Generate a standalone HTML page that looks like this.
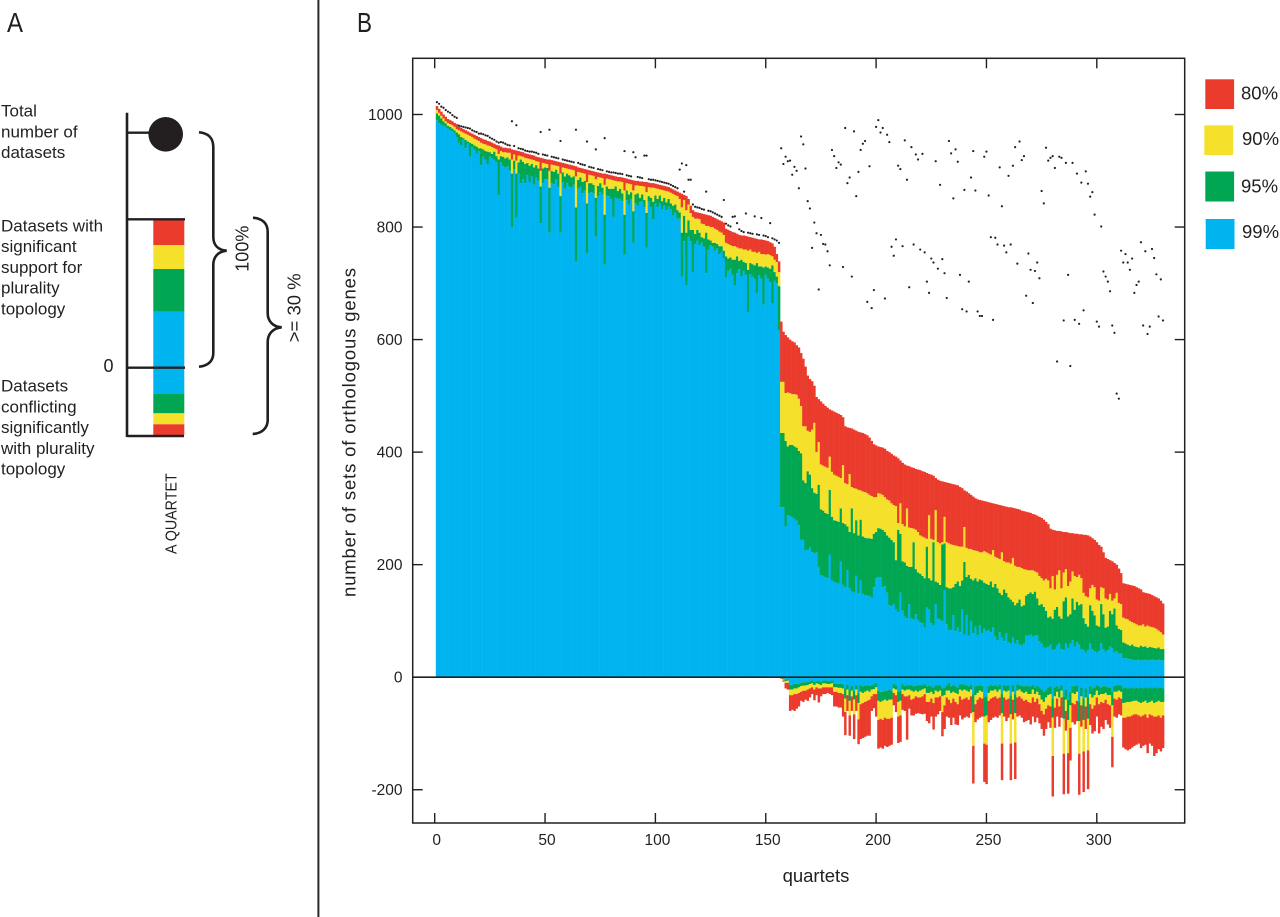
<!DOCTYPE html>
<html lang="en">
<head>
<meta charset="utf-8">
<title>Quartet support chart</title>
<style>
html,body{margin:0;padding:0;background:#fff;width:1280px;height:917px;overflow:hidden}
svg{display:block}
text{font-family:"Liberation Sans",sans-serif;fill:#231f20}
</style>
</head>
<body>
<svg id="figure" xmlns="http://www.w3.org/2000/svg" width="1280" height="917" viewBox="0 0 1280 917">
  <rect x="317.4" y="0" width="2" height="917" fill="#2a2a2a"/>
  <text x="7" y="32" font-size="28" textLength="16" lengthAdjust="spacingAndGlyphs">A</text>
  <text x="357" y="32" font-size="28" textLength="15" lengthAdjust="spacingAndGlyphs">B</text>

  <g id="panel-a">
    <g id="schematic-stack"></g>
    <line x1="127" y1="112.7" x2="127" y2="437" stroke="#231f20" stroke-width="2.6"/>
    <line x1="127" y1="132.7" x2="152" y2="132.7" stroke="#231f20" stroke-width="2.4"/>
    <circle cx="165.7" cy="134.3" r="17.3" fill="#231f20"/>
    <line x1="127" y1="219.3" x2="185" y2="219.3" stroke="#231f20" stroke-width="2.4"/>
    <line x1="127" y1="367.7" x2="185" y2="367.7" stroke="#231f20" stroke-width="2.4"/>
    <line x1="127" y1="436" x2="184" y2="436" stroke="#231f20" stroke-width="2.4"/>
    <path d="M199 132.3 C208 133 213.3 138 213.3 147 L213.3 237 C213.3 245 218 250 226.7 250.7 C218 251.5 213.3 257 213.3 265 L213.3 353 C213.3 361 208 366 199 366.7" fill="none" stroke="#231f20" stroke-width="2.6"/>
    <path d="M253 217.7 C262 218.4 267.7 223 267.7 232 L267.7 313.3 C267.7 321 273 327 281.7 327.3 C273 328 267.7 334 267.7 342 L267.7 420 C267.7 428 262 433.4 252.7 434" fill="none" stroke="#231f20" stroke-width="2.6"/>
    <text transform="translate(248.3,271.7) rotate(-90)" font-size="18">100%</text>
    <text transform="translate(300.7,342.3) rotate(-90)" font-size="18.5">&gt;= 30 %</text>
    <text x="103.5" y="372" font-size="18">0</text>
    <text transform="translate(176.7,554) rotate(-90)" font-size="16" textLength="80.7" lengthAdjust="spacingAndGlyphs">A QUARTET</text>
    <g font-size="17">
      <text x="1" y="116.7">Total</text>
      <text x="1" y="137.3">number of</text>
      <text x="1" y="158">datasets</text>
    </g>
    <g font-size="17">
      <text x="1" y="231.3">Datasets with</text>
      <text x="1" y="252">significant</text>
      <text x="1" y="273">support for</text>
      <text x="1" y="293.6">plurality</text>
      <text x="1" y="314.3">topology</text>
    </g>
    <g font-size="17">
      <text x="1" y="391.7">Datasets</text>
      <text x="1" y="412.5">conflicting</text>
      <text x="1" y="433.2">significantly</text>
      <text x="1" y="454">with plurality</text>
      <text x="1" y="474.7">topology</text>
    </g>
  </g>

  <g id="bars"></g>
  <g id="dots"></g>
  <g id="axes"></g>

  <text transform="translate(355.5,597) rotate(-90)" font-size="18.5" textLength="329">number of sets of orthologous genes</text>
  <text x="816" y="882" font-size="18.5" text-anchor="middle">quartets</text>

  <g>
    <rect x="1205.3" y="79.3" width="28.8" height="29.7" fill="#EA3B2D"/>
    <rect x="1204.3" y="125.3" width="28.8" height="29.7" fill="#F5E02A"/>
    <rect x="1205.3" y="171.5" width="28.8" height="30" fill="#00A651"/>
    <rect x="1205.7" y="219" width="28.8" height="30" fill="#00B4EF"/>
    <text x="1241" y="99.5" font-size="18.5">80%</text>
    <text x="1242" y="145" font-size="18.5">90%</text>
    <text x="1241" y="192.7" font-size="18.5">95%</text>
    <text x="1242" y="238" font-size="18.5">99%</text>
  </g>
</svg>

<script>
// Category labels
const xTickLabels = [0, 50, 100, 150, 200, 250, 300];
const yTickLabels = [-200, 0, 200, 400, 600, 800, 1000];

// Total number of datasets (black dots), one value per quartet
const totals = [
1022,1019,1014,1012,1008,1005,1003,999,996,994,
980,979,978,977,976,975,972,970,969,966,
966,965,963,962,959,957,955,952,950,951,
950,948,946,945,988,944,981,940,939,938,
936,935,934,934,933,932,930,969,929,928,
927,973,925,924,923,922,953,920,919,918,
917,916,915,973,914,912,911,910,952,907,
906,905,938,903,902,901,958,899,898,897,
897,896,895,895,894,935,892,891,890,933,
924,889,888,887,927,927,885,884,884,883,
882,881,880,879,878,877,875,873,871,869,
902,913,863,910,884,884,840,836,835,834,
832,831,863,829,828,826,824,822,820,818,
848,806,803,801,818,819,807,796,793,791,
824,790,789,788,819,787,786,816,785,784,
782,807,780,778,776,772,
940,912,925,917,918,893,907,900,869,961,
947,904,846,833,763,808,789,689,786,770,
769,757,732,937,926,905,915,911,729,976,
878,888,712,970,855,898,937,948,953,667,
908,656,688,978,990,968,976,673,964,951,
765,749,778,909,903,766,954,884,693,942,
769,929,920,760,930,755,703,683,744,737,
917,726,875,743,718,674,953,931,851,938,
916,715,654,866,650,703,888,935,865,650,
642,642,925,934,856,782,635,781,769,906,
837,767,755,891,769,909,942,735,952,919,
926,678,753,724,665,722,737,709,864,842,
941,918,923,926,905,561,925,923,634,914,
715,553,914,635,895,628,879,652,899,877,
854,862,822,632,623,801,721,712,703,686,
625,612,504,495,758,737,752,737,724,744,
683,697,703,773,625,757,610,623,761,745,
716,641,707,634
];

// Significant support, cumulative level reached at each bootstrap threshold
const support80 = [
1015,1010,1005,1000,996,992,990,988,985,983,
978,976,974,972,970,968,966,964,962,960,
958,956,955,953,952,950,948,946,945,943,
941,941,940,940,938,937,936,935,934,933,
931,930,929,928,927,925,924,923,922,921,
920,920,919,918,917,916,915,914,913,912,
911,910,909,908,906,905,904,903,902,901,
900,899,898,897,896,895,895,894,893,892,
891,890,889,889,888,887,886,885,884,883,
882,882,881,881,880,880,879,878,878,877,
876,875,874,873,872,871,869,867,865,863,
861,859,857,855,850,838,830,827,826,825,
824,823,822,821,820,818,816,814,812,810,
808,797,795,793,791,790,788,786,785,785,
784,783,782,781,780,779,778,778,777,776,
775,773,771,765,752,739,632,614,608,604,
600,597,595,590,586,576,566,552,536,530,
526,518,498,494,490,486,482,479,476,474,
472,470,468,466,462,446,444,443,442,440,
438,436,435,434,432,430,426,420,414,412,
410,409,408,406,402,400,397,394,392,389,
385,381,378,376,375,373,372,370,369,368,
366,365,363,361,360,358,354,351,349,348,
347,346,345,344,343,342,341,338,336,332,
330,327,324,321,318,316,315,314,313,312,
311,310,309,308,307,306,305,304,303,302,
302,301,300,299,298,296,295,294,293,292,
290,289,287,285,283,280,276,272,264,262,
261,260,260,259,258,258,257,256,256,255,
255,254,254,253,253,252,250,247,244,240,
235,232,222,212,210,208,206,203,200,193,
185,167,166,165,164,163,162,160,158,156,
151,150,149,148,146,144,142,140,136,131
];
const support90 = [
1008,1003,998,993,988,985,983,981,978,974,
972,970,968,966,964,962,960,957,955,953,
950,948,947,945,944,942,940,938,930,935,
933,933,932,932,920,929,918,927,926,925,
923,922,921,920,919,917,916,900,914,913,
912,900,911,910,909,908,895,906,905,904,
903,902,901,890,898,897,896,895,880,893,
892,891,885,889,888,887,875,886,885,884,
883,882,881,881,880,865,878,877,876,865,
874,874,873,873,872,862,871,870,870,869,
868,867,866,865,864,863,861,859,857,855,
850,835,848,830,840,825,818,815,815,814,
806,805,802,802,800,800,797,795,792,790,
786,772,770,768,766,766,764,762,762,760,
760,758,760,756,756,754,756,752,752,751,
752,750,748,742,738,720,525,525,505,506,
505,503,503,502,495,482,446,446,438,436,
440,452,400,418,378,376,374,372,392,365,
360,358,356,354,377,345,343,361,338,336,
335,333,332,330,329,327,324,322,320,320,
327,326,324,320,316,314,309,306,304,274,
309,272,268,300,266,265,264,262,258,252,
250,248,246,288,246,244,297,240,238,240,
285,240,238,236,235,234,233,232,232,267,
230,228,228,226,225,224,222,222,224,222,
220,218,226,214,212,210,222,206,204,204,
202,212,198,196,196,194,192,191,190,190,
190,188,186,180,176,172,175,172,158,180,
156,182,190,158,186,192,162,170,188,180,
178,182,176,150,144,142,158,164,160,138,
136,160,158,140,138,148,136,140,150,132,
130,106,104,103,100,98,96,94,92,92,
94,90,92,90,89,88,86,83,80,76
];
const support95 = [
1002,998,993,988,984,980,978,975,972,968,
965,960,958,955,952,950,948,945,943,940,
940,938,935,934,933,930,934,926,920,926,
925,922,924,920,895,918,895,915,920,916,
912,914,909,912,906,910,904,872,904,906,
905,870,900,898,902,895,855,897,890,895,
892,888,890,835,884,888,880,882,842,878,
878,875,852,873,878,870,822,872,868,868,
868,872,864,868,860,822,865,858,862,828,
858,860,852,858,848,825,855,852,845,856,
850,856,846,852,844,850,842,838,840,830,
826,790,820,790,812,795,795,788,795,790,
782,780,790,778,776,772,772,770,766,766,
758,748,744,746,742,742,748,740,742,738,
736,724,736,734,732,736,730,730,728,730,
728,726,732,720,712,695,434,434,420,410,
413,413,410,408,402,398,350,345,366,360,
336,328,326,342,298,296,292,290,333,285,
279,278,276,300,274,272,268,258,300,256,
279,252,280,250,248,247,247,246,255,258,
265,264,262,258,252,248,244,240,208,262,
255,206,204,198,196,196,240,192,186,184,
180,176,232,176,172,240,170,168,164,236,
238,160,158,158,160,166,170,162,172,205,
178,182,175,172,176,170,174,172,168,166,
164,170,160,166,158,150,146,156,150,142,
138,134,128,132,138,126,128,145,148,151,
148,152,140,128,130,125,118,106,108,104,
120,125,108,104,135,142,108,112,140,120,
134,128,130,105,95,90,128,118,110,92,
90,130,112,88,90,118,112,122,92,86,
84,62,60,58,56,58,55,54,53,56,
54,55,52,54,53,52,51,53,50,50
];
const support99 = [
990,985,982,980,978,975,972,970,968,960,
950,945,955,940,948,925,942,938,930,935,
910,925,920,912,925,922,920,915,857,915,
908,906,908,900,800,903,817,895,878,885,
878,892,880,890,875,888,882,807,878,885,
885,790,878,876,885,872,790,880,868,878,
872,870,875,739,868,872,860,865,754,860,
862,860,783,855,862,858,733,856,855,850,
818,852,850,850,846,751,848,840,850,772,
842,838,844,846,835,763,845,835,813,842,
835,842,832,838,830,836,832,820,826,815,
815,712,775,697,783,775,720,770,776,768,
772,765,718,760,768,765,758,762,752,756,
745,710,722,726,715,697,718,725,712,722,
715,649,716,712,708,683,714,708,662,715,
708,702,665,705,700,617,302,302,268,288,
286,284,282,278,270,244,244,226,226,230,
222,220,222,196,181,180,178,176,218,172,
169,168,166,205,164,160,190,158,152,150,
180,149,172,148,146,145,144,141,160,176,
178,178,160,162,150,128,126,130,120,116,
150,118,108,105,130,104,102,112,101,98,
96,88,124,120,96,92,130,104,102,100,
155,94,84,84,110,82,88,80,120,76,
110,74,100,78,90,75,92,78,86,82,
84,80,88,72,66,80,70,64,78,62,
60,70,60,66,58,56,60,74,74,76,
72,74,75,64,60,53,52,54,58,48,
50,56,60,50,48,60,52,60,66,54,
62,58,50,48,44,48,60,50,46,44,
46,60,50,45,48,54,52,44,46,42,
43,34,34,33,32,31,30,30,31,30,
30,31,30,30,31,30,30,31,30,30
];

// Significant conflict, cumulative depth below zero at each threshold
const conflict80 = [
0,0,0,0,0,0,0,0,0,0, 0,0,0,0,0,0,0,0,0,0,
0,0,0,0,0,0,0,0,0,0, 0,0,0,0,0,0,0,0,0,0,
0,0,0,0,0,0,0,0,0,0, 0,0,0,0,0,0,0,0,0,0,
0,0,0,0,0,0,0,0,0,0, 0,0,0,0,0,0,0,0,0,0,
0,0,0,0,0,0,0,0,0,0, 0,0,0,0,0,0,0,0,0,0,
0,0,0,0,0,0,0,0,0,0, 0,0,0,0,0,0,0,0,0,0,
0,0,0,0,0,0,0,0,0,0, 0,0,0,0,0,0,0,0,0,0,
0,0,0,0,0,0,0,0,0,0,
0,0,0,0,0,0,3,8,20,22,
60,58,60,56,52,42,44,40,42,36,
30,41,32,45,34,30,30,28,30,32,
52,52,54,54,70,103,60,104,60,110,
60,119,110,108,106,104,104,60,55,70,
127,125,127,122,124,122,120,50,62,117,
115,58,60,111,56,68,68,65,64,65,
66,65,78,82,70,93,70,66,60,105,
92,70,72,85,72,84,85,68,75,72,
70,72,64,189,80,75,72,70,186,190,
80,76,72,70,72,68,183,70,78,72,
183,75,181,70,68,72,80,78,76,84,
70,80,72,82,92,104,92,80,90,212,
90,70,88,72,208,95,207,148,80,84,
78,209,88,204,92,199,85,100,96,70,
100,88,92,76,84,90,160,70,72,66,
68,125,128,130,128,125,122,120,118,126,
122,120,135,118,122,140,135,128,132,126
];
const conflict90 = [
0,0,0,0,0,0,0,0,0,0, 0,0,0,0,0,0,0,0,0,0,
0,0,0,0,0,0,0,0,0,0, 0,0,0,0,0,0,0,0,0,0,
0,0,0,0,0,0,0,0,0,0, 0,0,0,0,0,0,0,0,0,0,
0,0,0,0,0,0,0,0,0,0, 0,0,0,0,0,0,0,0,0,0,
0,0,0,0,0,0,0,0,0,0, 0,0,0,0,0,0,0,0,0,0,
0,0,0,0,0,0,0,0,0,0, 0,0,0,0,0,0,0,0,0,0,
0,0,0,0,0,0,0,0,0,0, 0,0,0,0,0,0,0,0,0,0,
0,0,0,0,0,0,0,0,0,0,
0,0,0,0,0,0,2,6,10,10,
32,32,30,30,28,26,24,24,22,20,
18,22,18,20,20,18,18,18,18,18,
26,26,28,28,30,62,32,68,34,66,
32,75,48,46,44,42,40,34,30,30,
76,74,76,72,74,74,72,28,32,70,
68,30,34,34,32,40,38,34,36,36,
34,30,44,44,38,46,36,36,34,62,
50,36,40,46,38,44,48,34,40,38,
36,40,34,122,48,40,36,38,118,120,
42,38,36,34,38,36,118,36,40,38,
118,40,116,36,34,38,42,40,44,46,
36,44,38,48,60,66,56,50,52,140,
54,38,52,36,136,60,135,90,46,48,
42,136,50,132,52,130,48,56,50,36,
48,44,46,40,48,50,106,38,40,36,
38,72,72,70,70,68,66,66,68,70,
68,66,72,66,68,70,70,68,72,68
];
const conflict95 = [
0,0,0,0,0,0,0,0,0,0, 0,0,0,0,0,0,0,0,0,0,
0,0,0,0,0,0,0,0,0,0, 0,0,0,0,0,0,0,0,0,0,
0,0,0,0,0,0,0,0,0,0, 0,0,0,0,0,0,0,0,0,0,
0,0,0,0,0,0,0,0,0,0, 0,0,0,0,0,0,0,0,0,0,
0,0,0,0,0,0,0,0,0,0, 0,0,0,0,0,0,0,0,0,0,
0,0,0,0,0,0,0,0,0,0, 0,0,0,0,0,0,0,0,0,0,
0,0,0,0,0,0,0,0,0,0, 0,0,0,0,0,0,0,0,0,0,
0,0,0,0,0,0,0,0,0,0,
0,0,0,0,0,0,1,4,7,6,
22,22,20,20,18,16,15,15,14,12,
11,14,11,12,14,11,11,12,12,11,
18,18,19,19,20,38,22,42,24,40,
22,46,26,28,26,24,26,22,21,18,
42,44,42,40,42,40,40,20,22,44,
42,22,24,22,22,24,26,24,26,24,
22,20,28,28,26,30,24,26,24,34,
32,24,24,28,26,28,30,22,24,22,
24,26,22,62,32,28,24,26,70,68,
28,24,24,22,26,22,64,24,26,24,
66,26,64,24,22,26,28,26,30,30,
22,30,26,32,40,44,36,32,30,72,
34,26,36,24,74,40,76,50,28,30,
26,78,34,76,36,74,30,36,32,24,
32,30,30,28,32,32,50,26,26,24,
26,46,45,44,44,43,42,42,44,46,
44,42,46,44,42,46,44,42,44,44
];
const conflict99 = [
0,0,0,0,0,0,0,0,0,0, 0,0,0,0,0,0,0,0,0,0,
0,0,0,0,0,0,0,0,0,0, 0,0,0,0,0,0,0,0,0,0,
0,0,0,0,0,0,0,0,0,0, 0,0,0,0,0,0,0,0,0,0,
0,0,0,0,0,0,0,0,0,0, 0,0,0,0,0,0,0,0,0,0,
0,0,0,0,0,0,0,0,0,0, 0,0,0,0,0,0,0,0,0,0,
0,0,0,0,0,0,0,0,0,0, 0,0,0,0,0,0,0,0,0,0,
0,0,0,0,0,0,0,0,0,0, 0,0,0,0,0,0,0,0,0,0,
0,0,0,0,0,0,0,0,0,0,
0,0,0,0,0,0,0,2,5,4,
14,14,12,12,11,10,9,9,8,7,
6,8,7,7,8,6,6,7,7,6,
12,11,12,12,13,20,14,22,15,24,
14,28,14,16,15,14,15,14,13,10,
24,26,26,24,24,22,24,12,14,26,
24,12,15,14,14,14,16,15,14,14,
14,12,16,15,16,18,14,14,14,20,
18,14,10,16,14,16,18,13,12,14,
14,16,13,30,16,15,14,15,36,34,
16,14,15,14,16,13,30,14,15,14,
32,14,30,13,14,15,16,15,16,16,
14,18,15,18,22,26,22,18,16,38,
18,16,20,14,34,22,40,26,16,16,
14,44,18,38,20,36,16,20,18,14,
16,18,16,16,18,18,26,15,14,14,
14,20,18,20,20,18,20,18,20,18,
20,18,20,18,20,18,20,18,18,20
];

// Panel A: illustrative quartet, stacked band sizes from the zero line
const schematicSupport = [56.0, 42.7, 24.0, 25.0];
const schematicConflict = [26.3, 19.3, 11.0, 10.7];

const RED = '#EA3B2D';
const YELLOW = '#F5E02A';
const GREEN = '#00A651';
const BLUE = '#00B4EF';
const INK = '#231f20';
const SVGNS = 'http://www.w3.org/2000/svg';

const xScale = q => 434.7 + 2.207 * q;
const yScale = v => 677.2 - 0.5627 * v;
const BAR_W = 2.207;

function make(tag, parent) {
  const el = document.createElementNS(SVGNS, tag);
  parent.appendChild(el);
  return el;
}

function segment(parent, q, from, to, color) {
  if (from === to) return null;
  const a = yScale(Math.max(from, to));
  const b = yScale(Math.min(from, to));
  const el = make('rect', parent);
  el.setAttribute('x', xScale(q) - BAR_W / 2);
  el.setAttribute('y', a);
  el.setAttribute('width', BAR_W + 0.25);
  el.setAttribute('height', b - a);
  el.setAttribute('fill', color);
  return el;
}

const barsLayer = document.getElementById('bars');
const dotsLayer = document.getElementById('dots');
const axesLayer = document.getElementById('axes');

const count = support80.length;
for (let i = 0; i < count; i++) {
  const q = i + 1;
  const group = make('g', barsLayer);
  
  
  const bands = [
    [0, support99[i], BLUE],
    [support99[i], support95[i], GREEN],
    [support95[i], support90[i], YELLOW],
    [support90[i], support80[i], RED],
    [0, -conflict99[i], BLUE],
    [-conflict99[i], -conflict95[i], GREEN],
    [-conflict95[i], -conflict90[i], YELLOW],
    [-conflict90[i], -conflict80[i], RED]
  ];
  bands.forEach(b => {
    const seg = segment(group, q, b[0], b[1], b[2]);
    if (seg) {
      
      
    }
  });
}

totals.forEach((value, i) => {
  const dot = make('circle', dotsLayer);
  
  
  dot.setAttribute('cx', xScale(i + 1));
  dot.setAttribute('cy', yScale(value));
  dot.setAttribute('r', 1.1);
  dot.setAttribute('fill', INK);
});

function line(parent, x1, y1, x2, y2, width) {
  const el = make('line', parent);
  el.setAttribute('x1', x1);
  el.setAttribute('y1', y1);
  el.setAttribute('x2', x2);
  el.setAttribute('y2', y2);
  el.setAttribute('stroke', INK);
  el.setAttribute('stroke-width', width);
  return el;
}

const PLOT_L = 412.7, PLOT_R = 1184.7, PLOT_T = 58.3, PLOT_B = 823;

const zeroLine = line(axesLayer, PLOT_L, yScale(0), PLOT_R, yScale(0), 1.6);



const frame = make('rect', axesLayer);


frame.setAttribute('x', PLOT_L);
frame.setAttribute('y', PLOT_T);
frame.setAttribute('width', PLOT_R - PLOT_L);
frame.setAttribute('height', PLOT_B - PLOT_T);
frame.setAttribute('fill', 'none');
frame.setAttribute('stroke', INK);
frame.setAttribute('stroke-width', 1.5);

xTickLabels.forEach(label => {
  const x = xScale(label);
  const bottomTick = line(axesLayer, x, PLOT_B - 10, x, PLOT_B, 1.4);
  
  
  const topTick = line(axesLayer, x, PLOT_T, x, PLOT_T + 10, 1.4);
  
  
  const text = make('text', axesLayer);
  
  
  text.setAttribute('x', x + 2);
  text.setAttribute('y', 845);
  text.setAttribute('font-size', 15.5);
  text.setAttribute('text-anchor', 'middle');
  text.textContent = label;
});

yTickLabels.forEach(label => {
  const y = yScale(label);
  const leftTick = line(axesLayer, PLOT_L, y, PLOT_L + 10, y, 1.4);
  
  
  const rightTick = line(axesLayer, PLOT_R - 10, y, PLOT_R, y, 1.4);
  
  
  const text = make('text', axesLayer);
  
  
  text.setAttribute('x', 402.5);
  text.setAttribute('y', y + 5.5);
  text.setAttribute('font-size', 15.5);
  text.setAttribute('text-anchor', 'end');
  text.textContent = label;
});

// Panel A stack
const stackLayer = document.getElementById('schematic-stack');
const stackColors = [BLUE, GREEN, YELLOW, RED];
const SCHEMATIC_ZERO = 367.7;
function schematicBand(from, to, color) {
  const el = make('rect', stackLayer);
  
  
  el.setAttribute('x', 153.3);
  el.setAttribute('y', Math.min(from, to));
  el.setAttribute('width', 31);
  el.setAttribute('height', Math.abs(to - from));
  el.setAttribute('fill', color);
}
let runUp = SCHEMATIC_ZERO;
schematicSupport.forEach((v, k) => {
  schematicBand(runUp, runUp - v, stackColors[k]);
  runUp -= v;
});
let runDown = SCHEMATIC_ZERO;
schematicConflict.forEach((v, k) => {
  schematicBand(runDown, runDown + v, stackColors[k]);
  runDown += v;
});
</script>
</body>
</html>
